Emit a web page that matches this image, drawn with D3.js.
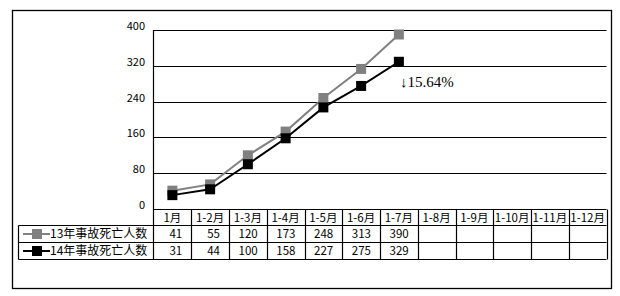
<!DOCTYPE html>
<html><head><meta charset="utf-8">
<script src="https://cdn.jsdelivr.net/npm/d3@7"></script>
<style>body{margin:0;background:#fff}svg{display:block}</style>
</head><body>
<script>
const categories = ["1月","1-2月","1-3月","1-4月","1-5月","1-6月","1-7月","1-8月","1-9月","1-10月","1-11月","1-12月"];
const seriesNames = ["13年事故死亡人数","14年事故死亡人数"];
const values2013 = [41,55,120,173,248,313,390];
const values2014 = [31,44,100,158,227,275,329];
const yTicks = [0,80,160,240,320,400];
const annotation = "↓15.64%";
const colors = ["#808080","#000000"];

const W=620,H=296;
const svg=d3.select("body").append("svg").attr("width",W).attr("height",H);
const font='"Noto Sans CJK SC", sans-serif';

// outer border
svg.append("rect").attr("x",12.5).attr("y",10.5).attr("width",599).attr("height",278)
  .attr("fill","none").attr("stroke","#000").attr("stroke-width",1.3);

const x0=153.5, x1=606.5;
const x=d3.scaleBand().domain(categories).range([x0,x1]);
const y=d3.scaleLinear().domain([0,400]).range([209,30]);

// gridlines
svg.append("g").selectAll("line").data(yTicks.filter(d=>d>0)).join("line")
  .attr("x1",x0).attr("x2",x1).attr("y1",d=>Math.round(y(d))+0.5).attr("y2",d=>Math.round(y(d))+0.5)
  .attr("stroke","#000").attr("stroke-width",1.2);

// y labels
const yAxis=d3.axisLeft(y).tickValues(yTicks).tickSize(0).tickPadding(0);
const ya=svg.append("g").attr("transform","translate(145,0)").call(yAxis);
ya.select(".domain").remove();
ya.selectAll("text").attr("font-family",font).attr("font-size",11).attr("fill","#000").attr("dy","-0.05em");

// table
const rowY=[209.5,225.5,242.5,259.5];
const tg=svg.append("g").attr("stroke","#000").attr("stroke-width",1.2);
// horizontal lines
tg.append("line").attr("x1",x0).attr("x2",x1).attr("y1",rowY[0]).attr("y2",rowY[0]);
[1,2,3].forEach(i=>tg.append("line").attr("x1",18.5).attr("x2",x1).attr("y1",rowY[i]).attr("y2",rowY[i]));
// vertical lines
tg.append("line").attr("x1",x0).attr("x2",x0).attr("y1",30).attr("y2",rowY[3]);
tg.append("line").attr("x1",18.5).attr("x2",18.5).attr("y1",rowY[1]).attr("y2",rowY[3]);
categories.forEach(c=>{
  const xr=Math.round(x(c)+x.bandwidth())+0.5;
  tg.append("line").attr("x1",xr).attr("x2",xr).attr("y1",rowY[0]).attr("y2",rowY[3]);
});

// header labels
svg.append("g").selectAll("text").data(categories).join("text")
  .attr("x",d=>x(d)+x.bandwidth()/2).attr("y",(rowY[0]+rowY[1])/2+4)
  .attr("text-anchor","middle").attr("font-family",font).attr("font-size",11.5).text(d=>d);

// values
[values2013,values2014].forEach((vals,si)=>{
  const cy=(rowY[si+1]+rowY[si+2])/2+4;
  svg.append("g").selectAll("text").data(vals).join("text")
    .attr("x",(d,i)=>x(categories[i])+x.bandwidth()-9).attr("y",cy)
    .attr("text-anchor","end").attr("font-family",font).attr("font-size",11.5).text(d=>d);
  // legend key
  const ly=(rowY[si+1]+rowY[si+2])/2;
  svg.append("line").attr("x1",23).attr("x2",50).attr("y1",ly).attr("y2",ly).attr("stroke",colors[si]).attr("stroke-width",2);
  svg.append("rect").attr("x",32).attr("y",ly-5).attr("width",10).attr("height",10).attr("fill",colors[si]);
  svg.append("text").attr("x",50).attr("y",cy).attr("font-family",font).attr("font-size",12).text(seriesNames[si]);
});

// lines
const line=d3.line().x((d,i)=>x(categories[i])+x.bandwidth()/2).y(d=>y(d));
[values2013,values2014].forEach((vals,si)=>{
  svg.append("path").datum(vals).attr("d",line).attr("fill","none").attr("stroke",colors[si]).attr("stroke-width",2);
  svg.append("g").selectAll("rect").data(vals).join("rect")
    .attr("x",(d,i)=>x(categories[i])+x.bandwidth()/2-5).attr("y",d=>y(d)-5)
    .attr("width",10).attr("height",10).attr("fill",colors[si]);
});

// annotation
const lastI=values2014.length-1;
svg.append("text").attr("x",x(categories[lastI])+x.bandwidth()/2+1).attr("y",y(values2014[lastI])+25)
  .attr("font-family",'"Liberation Serif", serif').attr("font-size",15).attr("fill","#000").text(annotation);
</script>
</body></html>
